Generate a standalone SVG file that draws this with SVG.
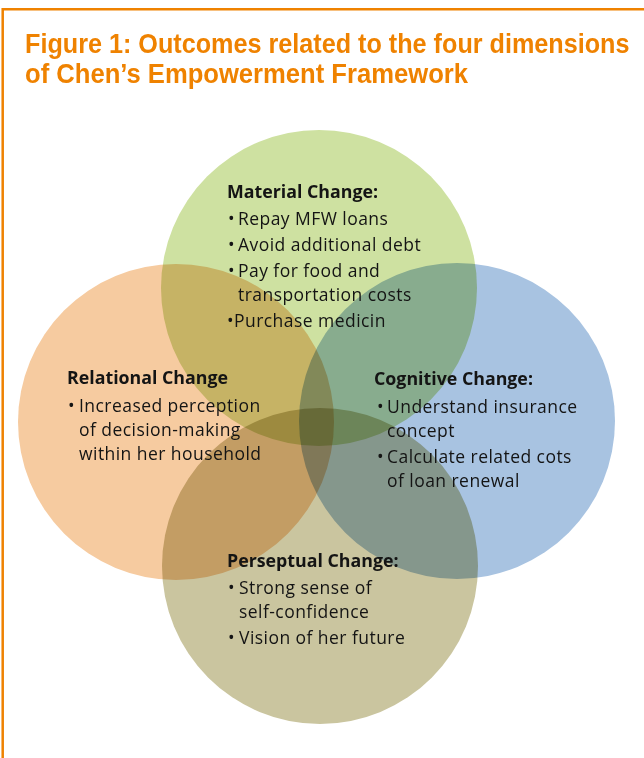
<svg xmlns="http://www.w3.org/2000/svg" width="644" height="758" viewBox="0 0 644 758">
<style>
.frame{fill:none;stroke:#EF8200;stroke-width:2.5}
.title{font-family:"Liberation Sans","Noto Sans",sans-serif;font-weight:700;font-size:26.8px;fill:#EF8200}
.c{mix-blend-mode:multiply}
.h{font-family:"Open Sans","Noto Sans",sans-serif;font-weight:700;font-size:17.8px;fill:#141414}
.t{font-family:"Open Sans","Noto Sans",sans-serif;font-weight:400;font-size:17.5px;letter-spacing:0.45px;fill:#141414}
</style>
<rect width="644" height="758" fill="#FFFFFF"/>
<path class="frame" d="M2.7,770 V9.3 H660"/>
<g id="title">
<text class="title" transform="translate(25,53) scale(0.94,1)">Figure 1: Outcomes related to the four dimensions</text>
<text class="title" transform="translate(25,83) scale(0.956,1)">of Chen’s Empowerment Framework</text>
</g>
<g id="material">
<circle class="c" cx="319" cy="288" r="158" fill="#CEE1A1"/>
</g>
<g id="relational">
<circle class="c" cx="176" cy="422" r="158" fill="#F6CBA0"/>
</g>
<g id="cognitive">
<circle class="c" cx="457" cy="421" r="158" fill="#A8C3E1"/>
</g>
<g id="perseptual">
<circle class="c" cx="320" cy="566" r="158" fill="#CAC59F"/>
</g>
<g id="material-text">
<text class="h" x="227" y="198">Material Change:</text>
<text class="t" x="228" y="225">•</text><text class="t" x="238" y="225">Repay MFW loans</text>
<text class="t" x="228" y="251">•</text><text class="t" x="238" y="251">Avoid additional debt</text>
<text class="t" x="228" y="277">•</text><text class="t" x="238" y="277">Pay for food and</text>
<text class="t" x="238" y="301">transportation costs</text>
<text class="t" x="227" y="327">•Purchase medicin</text>
</g>
<g id="relational-text">
<text class="h" x="67" y="384">Relational Change</text>
<text class="t" x="68" y="412">•</text><text class="t" x="79" y="412">Increased perception</text>
<text class="t" x="79" y="436">of decision-making</text>
<text class="t" x="79" y="460">within her household</text>
</g>
<g id="cognitive-text">
<text class="h" x="374" y="385">Cognitive Change:</text>
<text class="t" x="377" y="413">•</text><text class="t" x="387" y="413">Understand insurance</text>
<text class="t" x="387" y="437">concept</text>
<text class="t" x="377" y="463">•</text><text class="t" x="387" y="463">Calculate related cots</text>
<text class="t" x="387" y="487">of loan renewal</text>
</g>
<g id="perseptual-text">
<text class="h" x="227" y="567">Perseptual Change:</text>
<text class="t" x="228" y="594">•</text><text class="t" x="239" y="594">Strong sense of</text>
<text class="t" x="239" y="618">self-confidence</text>
<text class="t" x="228" y="644">•</text><text class="t" x="239" y="644">Vision of her future</text>
</g>
</svg>
